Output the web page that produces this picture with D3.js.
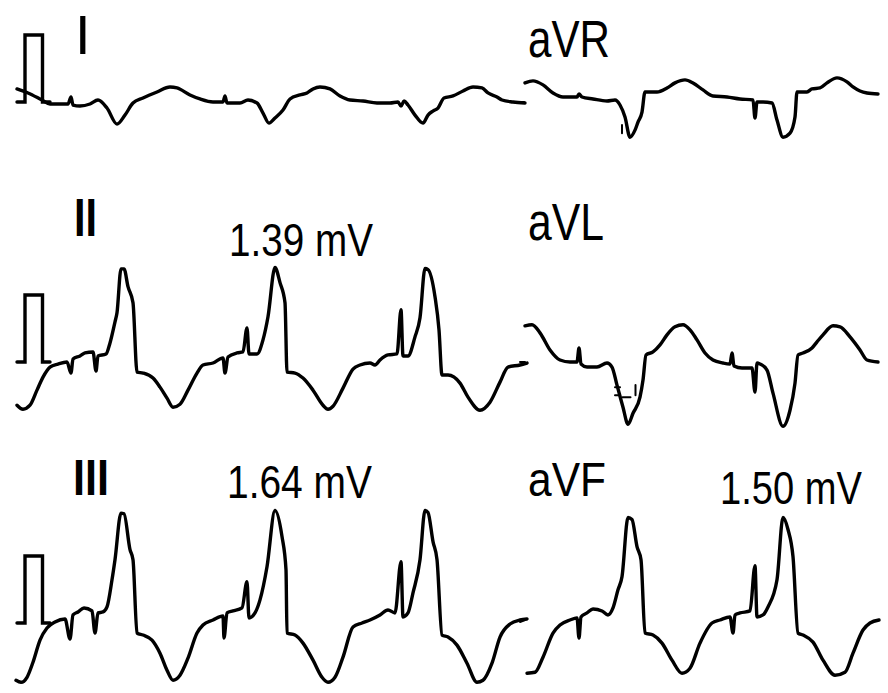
<!DOCTYPE html>
<html>
<head>
<meta charset="utf-8">
<script src="https://cdn.jsdelivr.net/npm/d3@7"></script>
<style>
  html, body { margin: 0; padding: 0; background: #fff; }
  svg { display: block; }
</style>
</head>
<body>
<div id="chart-area"></div>
<script>
const width = 888, height = 693;

// traces: [time ms, amplitude µV]
const calPulse = [[8, 0], [40, 0], [40, 1000], [110, 1000], [110, 0], [140, 0]];

const leadI = [[8,195],[52,135],[108,30],[140,-30],[212,-30],[224,75],[232,-45],[260,-60],[300,-30],[332,30],
  [368,-90],[408,-330],[440,-195],[472,-15],[512,60],[568,150],[620,225],[648,210],[700,105],[740,45],
  [792,0],[832,0],[840,90],[848,-15],[900,-15],[932,30],[968,-15],[992,-165],[1016,-315],[1040,-240],
  [1072,-120],[1100,45],[1140,105],[1168,135],[1192,195],[1220,225],[1260,195],[1300,90],[1340,30],[1392,15],
  [1448,-15],[1500,-15],[1532,0],[1544,-60],[1556,15],[1572,-45],[1600,-195],[1632,-315],[1652,-195],[1672,-135],
  [1692,-90],[1716,60],[1752,90],[1792,165],[1832,225],[1868,210],[1892,135],[1928,75],[1948,30],[1992,0],[2040,-15]];

const leadAVR = [[2040,285],[2072,315],[2112,255],[2152,135],[2192,75],[2248,75],[2256,120],[2268,75],[2312,45],
  [2368,15],[2400,30],[2420,-45],[2440,-225],[2460,-525],[2480,-420],[2492,-300],[2508,-150],[2520,150],[2568,150],
  [2608,210],[2640,285],[2680,330],[2712,285],[2752,180],[2792,90],[2848,75],[2900,45],[2952,30],[2960,-240],
  [2968,0],[2992,0],[3028,-15],[3048,-270],[3072,-525],[3100,-465],[3120,-225],[3128,150],[3168,150],[3188,195],
  [3220,210],[3248,285],[3288,360],[3328,300],[3352,225],[3380,165],[3408,135],[3452,120]];

const leadII = [[8,-645],[32,-705],[60,-645],[88,-420],[112,-225],[140,-75],[172,-30],[208,0],[224,-165],[232,45],
  [260,90],[280,135],[312,150],[324,-135],[332,90],[364,120],[380,285],[400,600],[408,735],[424,1390],[436,1390],
  [452,1125],[472,885],[488,-150],[512,-165],[552,-240],[580,-375],[608,-540],[632,-675],[660,-630],[692,-420],
  [728,-165],[752,-45],[792,-15],[832,60],[840,-165],[852,75],[888,135],[912,150],[928,510],[936,120],[968,120],
  [992,330],[1012,675],[1040,1410],[1060,1185],[1080,885],[1088,-150],[1120,-165],[1152,-240],[1192,-420],
  [1232,-645],[1252,-705],[1272,-660],[1312,-390],[1352,-105],[1380,-45],[1420,-15],[1440,-45],[1460,30],
  [1492,105],[1528,120],[1544,780],[1552,90],[1572,90],[1600,375],[1620,660],[1640,1395],[1652,1380],[1680,975],
  [1696,480],[1708,-195],[1732,-195],[1780,-315],[1812,-525],[1860,-720],[1900,-600],[1940,-300],[1972,-75],
  [2020,-45],[2048,-15]];

const leadAVL = [[2040,540],[2068,555],[2100,435],[2140,180],[2180,30],[2220,0],[2248,0],[2256,210],[2264,-30],
  [2288,-75],[2328,-75],[2368,-15],[2388,-75],[2408,-345],[2432,-675],[2452,-930],[2472,-765],[2500,-525],
  [2512,-270],[2524,105],[2552,150],[2580,255],[2608,405],[2640,525],[2672,555],[2700,480],[2728,330],[2760,135],
  [2792,30],[2832,-15],[2860,-30],[2868,135],[2876,-60],[2908,-90],[2948,-90],[2960,-450],[2968,-15],[2980,-30],
  [3008,-120],[3032,-465],[3072,-960],[3100,-720],[3120,-315],[3132,105],[3152,135],[3188,210],[3208,300],
  [3232,405],[3272,540],[3300,525],[3340,375],[3380,180],[3408,30],[3452,0]];

const leadIII = [[4,-855],[24,-885],[48,-810],[72,-585],[100,-255],[128,-75],[160,15],[200,60],[220,-240],[232,120],
  [252,165],[276,225],[308,180],[320,-150],[332,150],[352,165],[368,240],[388,645],[400,945],[424,1640],[436,1630],
  [460,1095],[472,945],[488,-150],[512,-180],[548,-255],[580,-450],[608,-705],[632,-855],[660,-780],[692,-525],
  [728,-150],[752,-30],[792,45],[832,105],[836,-225],[848,150],[872,180],[908,225],[928,615],[936,75],[960,150],
  [980,345],[1008,840],[1040,1680],[1068,1290],[1084,795],[1088,-150],[1120,-180],[1152,-300],[1192,-555],
  [1228,-810],[1252,-885],[1280,-810],[1312,-510],[1352,-60],[1388,0],[1420,45],[1460,120],[1492,195],[1520,150],
  [1544,915],[1552,90],[1572,150],[1592,450],[1620,945],[1640,1680],[1652,1650],[1672,1215],[1688,945],
  [1708,-180],[1732,-210],[1768,-330],[1808,-600],[1848,-885],[1872,-855],[1908,-600],[1940,-210],[1980,-15],
  [2020,45],[2048,60]];

const leadAVF = [[2048,-750],[2080,-735],[2112,-510],[2152,-150],[2180,-30],[2220,45],[2248,75],[2256,-225],
  [2264,90],[2288,150],[2312,210],[2348,180],[2372,120],[2392,225],[2412,495],[2428,690],[2452,1575],[2468,1545],
  [2488,1140],[2504,945],[2520,-150],[2552,-180],[2588,-300],[2628,-555],[2668,-750],[2700,-675],[2740,-300],
  [2788,0],[2820,45],[2860,90],[2872,-150],[2880,120],[2900,150],[2940,180],[2960,855],[2968,90],[2992,120],
  [3012,240],[3048,645],[3072,1575],[3092,1395],[3112,990],[3132,-150],[3152,-180],[3192,-285],[3232,-555],
  [3280,-780],[3320,-735],[3352,-450],[3392,-105],[3420,0],[3456,45]];

// lead-switch ticks and scan specks on the right-hand leads: [row, [[ms, µV], ...]]
const marks = [
  [0, [[2020, 0], [2036, 0]]],
  [1, [[2020, 0], [2040, 0]]],
  [2, [[2020, 15], [2040, 45]]],
  [0, [[2428, -345], [2428, -465]]],
  [1, [[2400, -375], [2420, -375]]],
  [1, [[2400, -495], [2420, -495]]],
  [1, [[2430, -525], [2462, -525]]],
  [1, [[2482, -345], [2482, -495]]]
];

const leadNames = ["I", "II", "III", "aVR", "aVL", "aVF"];
const peakLabels = ["1.39 mV", "1.64 mV", "1.50 mV"];

// layout
const rowBase = [102, 362, 623];
const pxPerMv = 67;
const x = d3.scaleLinear().domain([0, 4000]).range([15, 1015]);
const yRow = r => d3.scaleLinear().domain([-1000, 1000]).range([rowBase[r] + pxPerMv, rowBase[r] - pxPerMv]);

const leads = [
  {data: leadI, row: 0}, {data: leadII, row: 1}, {data: leadIII, row: 2},
  {data: leadAVR, row: 0}, {data: leadAVL, row: 1}, {data: leadAVF, row: 2}
];

const svg = d3.select("#chart-area").append("svg")
  .attr("width", width)
  .attr("height", height);

const g = svg.append("g")
  .attr("fill", "none")
  .attr("stroke", "#000")
  .attr("stroke-width", 3.4)
  .attr("stroke-linejoin", "round")
  .attr("stroke-linecap", "round");

// calibration pulses on the left leads
[0, 1, 2].forEach(r => {
  const y = yRow(r);
  g.append("path")
    .attr("stroke-linejoin", "miter")
    .attr("d", d3.line().x(d => x(d[0])).y(d => y(d[1]))(calPulse));
});

leads.forEach(l => {
  const y = yRow(l.row);
  g.append("path")
    .attr("d", d3.line().curve(d3.curveMonotoneX).x(d => x(d[0])).y(d => y(d[1]))(l.data));
});

marks.forEach(([r, pts]) => {
  const y = yRow(r);
  g.append("path")
    .attr("stroke-width", 2)
    .attr("d", d3.line().x(d => x(d[0])).y(d => y(d[1]))(pts));
});

// text, squeezed horizontally to the narrow face of the original
const font = "'Liberation Sans', Arial, sans-serif";
const nameLayout = [
  {x: 75, y: 54, size: 56, weight: "normal", w: null},
  {x: 74, y: 236, size: 54, weight: "bold", w: 23},
  {x: 73, y: 495, size: 50, weight: "bold", w: 36},
  {x: 528, y: 57, size: 51, weight: "normal", w: 82},
  {x: 528, y: 240, size: 51, weight: "normal", w: 76},
  {x: 528, y: 496, size: 49, weight: "normal", w: 78}
];
const peakLayout = [
  {x: 229, y: 256, size: 47, w: 144},
  {x: 227, y: 498, size: 47, w: 145},
  {x: 720, y: 504, size: 47, w: 142}
];

function addText(t, p, weight) {
  const txt = svg.append("text")
    .attr("font-family", font)
    .attr("font-size", p.size)
    .attr("font-weight", weight || "normal")
    .attr("fill", "#000")
    .text(t);
  const natural = txt.node().getComputedTextLength();
  const sx = p.w ? p.w / natural : 1;
  txt.attr("transform", `translate(${p.x},${p.y}) scale(${sx},1)`);
}

leadNames.forEach((t, i) => addText(t, nameLayout[i], nameLayout[i].weight));
peakLabels.forEach((t, i) => addText(t, peakLayout[i]));
</script>
</body>
</html>
